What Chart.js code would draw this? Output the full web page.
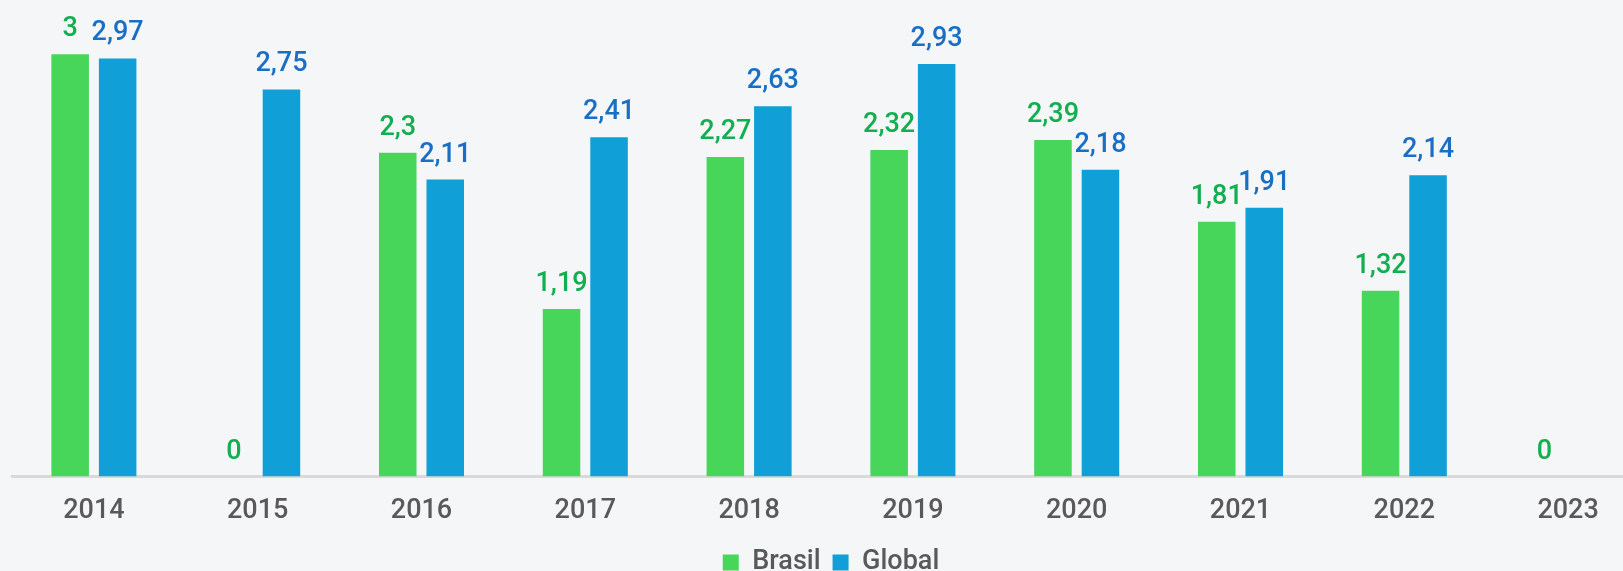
<!DOCTYPE html>
<html>
<head>
<meta charset="utf-8">
<script src="https://cdn.jsdelivr.net/npm/chart.js@4.4.1/dist/chart.umd.min.js"></script>
<style>
  html, body { margin: 0; padding: 0; background: #f4f6f7; overflow: hidden; }
  #wrap { width: 1650px; height: 571px; }
</style>
</head>
<body>
<div id="wrap"><canvas id="myChart"></canvas></div>
<script>
const labels = ['2014', '2015', '2016', '2017', '2018', '2019', '2020', '2021', '2022', '2023'];

const brasilValues = [3, 0, 2.3, 1.19, 2.27, 2.32, 2.39, 1.81, 1.32, 0];
const globalValues = [2.97, 2.75, 2.11, 2.41, 2.63, 2.93, 2.18, 1.91, 2.14, null];

const brasil = {
    label: 'Brasil',
    backgroundColor: '#47d55a',
    labelColor: '#12ae50',
    data: brasilValues,
};

const global = {
    label: 'Global',
    backgroundColor: '#109fd6',
    labelColor: '#1a6fc4',
    data: globalValues,
};

const fontFamily = 'Roboto, "Liberation Sans", Arial, sans-serif';

// writes the value above each bar, with a comma as decimal mark
const valueLabels = {
    id: 'valueLabels',
    afterDatasetsDraw(chart) {
        const ctx = chart.ctx;
        ctx.save();
        ctx.font = '500 27px ' + fontFamily;
        ctx.textAlign = 'center';
        ctx.textBaseline = 'alphabetic';
        chart.data.datasets.forEach((ds, i) => {
            chart.getDatasetMeta(i).data.forEach((bar, j) => {
                const v = ds.data[j];
                if (v === null || v === undefined) return;
                ctx.fillStyle = ds.labelColor;
                ctx.fillText(String(v).replace('.', ','), bar.x, bar.y - 18);
            });
        });
        ctx.restore();
    }
};

const config = {
    type: 'bar',
    data: { labels: labels, datasets: [brasil, global] },
    options: {
        responsive: true,
        maintainAspectRatio: false,
        animation: false,
        categoryPercentage: 0.58,
        barPercentage: 0.79,
        layout: { padding: { left: 12, right: 0, top: 12, bottom: -15 } },
        scales: {
            x: {
                grid: { display: false },
                border: { display: true, color: '#d9d9d9', width: 3 },
                ticks: {
                    color: '#595959',
                    padding: 10,
                    font: { family: fontFamily, size: 27, weight: '500' }
                }
            },
            y: { display: false, min: 0, max: 3.3 }
        },
        plugins: {
            legend: {
                position: 'bottom',
                labels: {
                    boxWidth: 16,
                    boxHeight: 16,
                    padding: 12,
                    color: '#595959',
                    font: { family: fontFamily, size: 27, weight: '500' }
                }
            },
            tooltip: { enabled: false }
        }
    },
    plugins: [valueLabels]
};

const myChart = new Chart(document.getElementById('myChart'), config);
</script>
</body>
</html>
